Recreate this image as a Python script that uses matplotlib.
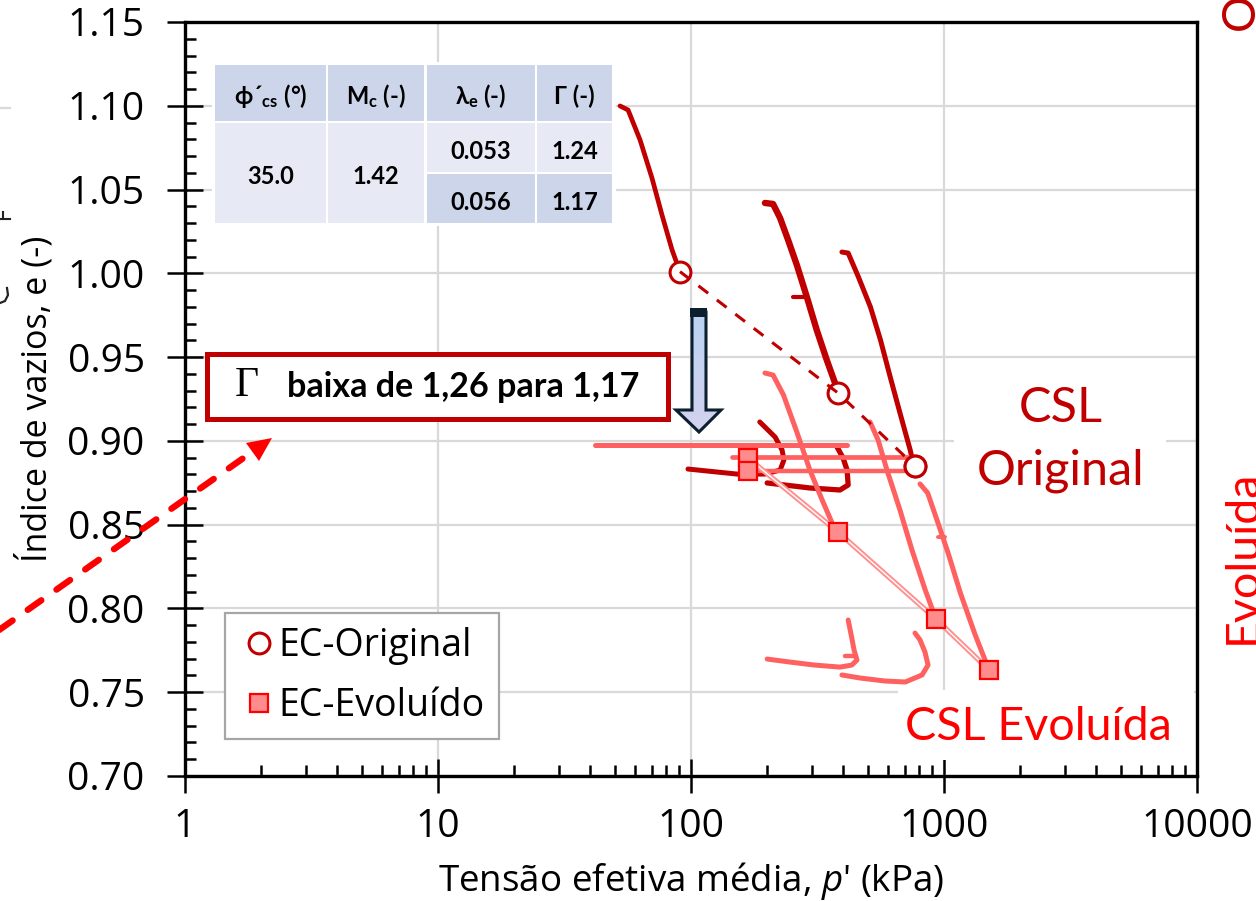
import matplotlib
matplotlib.use("Agg")
import matplotlib.pyplot as plt
import numpy as np
from matplotlib.colors import LinearSegmentedColormap
from matplotlib.lines import Line2D
from matplotlib.patches import Polygon, Rectangle
from matplotlib.ticker import FixedLocator, FuncFormatter, MultipleLocator, NullFormatter

plt.rcParams["font.family"] = ["Open Sans", "DejaVu Sans"]
plt.rcParams["mathtext.fontset"] = "custom"
plt.rcParams["mathtext.rm"] = "Open Sans"
plt.rcParams["mathtext.it"] = "Open Sans:italic"
plt.rcParams["mathtext.bf"] = "Lato:bold"

DARK = "#C00000"
LIGHT = "#FF6060"
GRID = "#D9D9D9"

# EC-Original: paths ending at the critical state points
orig_p = [90.5, 381, 768]
orig_e = [1.001, 0.9286, 0.885]
o1_p = [52.4, 56.4, 62.9, 70.1, 76.8, 84.2, 90.5]
o1_e = [1.0999, 1.0975, 1.0796, 1.0569, 1.0348, 1.0139, 1.0008]
o2_p = [196, 211, 225, 242, 262, 287, 314, 344, 371, 381]
o2_e = [1.0420, 1.0414, 1.0330, 1.0199, 1.0050, 0.9859, 0.9662, 0.9483, 0.9345, 0.9286]
o2b_p = [253, 287]
o2b_e = [0.986, 0.986]
o3_p = [395, 418, 459, 512, 561, 613, 670, 735, 755, 768]
o3_e = [1.0127, 1.0121, 0.9978, 0.9799, 0.9602, 0.9381, 0.9166, 0.8946, 0.8868, 0.885]
d1_p = [97.3, 152, 196, 225, 233, 229, 215, 187]
d1_e = [0.8832, 0.8802, 0.8802, 0.8826, 0.8886, 0.8946, 0.9023, 0.9113]
d2_p = [200, 295, 388, 418, 414, 399, 378]
d2_e = [0.8749, 0.8719, 0.8707, 0.8737, 0.8826, 0.8898, 0.8963]

# EC-Evoluido
evol_p = [168, 168, 381, 929, 1506]
evol_e = [0.8898, 0.882, 0.8456, 0.7937, 0.7633]
csl_p = [168, 381, 929, 1506]
csl_e = [0.8898, 0.8456, 0.7937, 0.7633]
l1_p = [196, 211, 232, 262, 295, 330, 364, 381]
l1_e = [0.9405, 0.9393, 0.9274, 0.9053, 0.8826, 0.8647, 0.8498, 0.8456]
l2_p = [510, 549, 595, 670, 747, 843, 929]
l2_e = [0.9113, 0.9005, 0.8826, 0.8587, 0.8349, 0.8110, 0.7937]
l3_p = [804, 862, 938, 1038, 1161, 1329, 1506]
l3_e = [0.8743, 0.8689, 0.8528, 0.8331, 0.8092, 0.7841, 0.7633]
l3b_p = [947, 1009]
l3b_e = [0.8426, 0.8426]
h1_p = [41.8, 414]
h1_e = [0.8975, 0.8975]
h2_p = [145, 720]
h2_e = [0.8904, 0.8904]
h3_p = [182, 702]
h3_e = [0.882, 0.882]
b1_p = [200, 246, 308, 388, 432, 453, 441, 432, 418]
b1_e = [0.7698, 0.7680, 0.7662, 0.7650, 0.7662, 0.7692, 0.7752, 0.7824, 0.7931]
b1b_p = [406, 445]
b1b_e = [0.7716, 0.7716]
b2_p = [395, 465, 583, 703, 819, 865, 841, 804, 768]
b2_e = [0.7603, 0.7585, 0.7567, 0.7561, 0.7603, 0.7662, 0.7740, 0.7812, 0.7853]

x_ticks = [1, 10, 100, 1000, 10000]
table_head = ["\u03d5\u00b4$_{\\mathbf{cs}}$ (\u00b0)", "M$_{\\mathbf{c}}$ (-)", "\u03bb$_{\\mathbf{e}}$ (-)", "\u0393 (-)"]
table_phi = "35.0"
table_mc = "1.42"
table_lambda = ["0.053", "0.056"]
table_gamma = ["1.24", "1.17"]

fig = plt.figure(figsize=(12.56, 9.01), dpi=100)
ax = fig.add_axes([185 / 1256, 1 - 776 / 901, 1012 / 1256, 754 / 901])
ax.set_xscale("log")
ax.set_xlim(1, 10000)
ax.set_ylim(0.70, 1.15)
ax.set_axisbelow(True)
ax.grid(True, which="major", color=GRID, lw=1.6)

ax.xaxis.set_major_locator(FixedLocator(x_ticks))
ax.xaxis.set_major_formatter(FuncFormatter(lambda v, _: f"{v:.0f}"))
ax.xaxis.set_minor_formatter(NullFormatter())
ax.yaxis.set_major_locator(MultipleLocator(0.05))
ax.yaxis.set_minor_locator(MultipleLocator(0.01))
ax.yaxis.set_major_formatter(FuncFormatter(lambda v, _: f"{v:.2f}"))
ax.tick_params(which="major", direction="inout", length=26, width=1.8, labelsize=28, pad=0)
ax.tick_params(axis="x", which="major", length=24, pad=11)
ax.tick_params(axis="y", which="major", pad=16)
ax.tick_params(which="minor", direction="in", length=8, width=1.8)
for side in ax.spines.values():
    side.set_linewidth(2.4)
    side.set_zorder(6)
ax.set_xlabel("Tensão efetiva média, $p$' (kPa)", fontsize=26.5, labelpad=10)
ax.set_ylabel("Índice de vazios, e (-)", fontsize=24.5, labelpad=0)
ax.yaxis.set_label_coords(-0.129, 0.50)


def curve(xs, ys, color, lw=3.0):
    ax.plot(xs, ys, color=color, lw=lw, solid_capstyle="round", solid_joinstyle="round", zorder=3)


curve(o1_p, o1_e, DARK, 3.4)
curve(o2_p, o2_e, DARK, 4.6)
curve(o2b_p, o2b_e, DARK, 3.0)
curve(o3_p, o3_e, DARK, 3.6)
curve(d1_p, d1_e, DARK, 3.6)
curve(d2_p, d2_e, DARK, 3.8)
for xs, ys, w in [(l1_p, l1_e, 3.6), (l2_p, l2_e, 3.6), (l3_p, l3_e, 3.6), (l3b_p, l3b_e, 2.8),
                  (h1_p, h1_e, 3.6), (h2_p, h2_e, 3.4), (h3_p, h3_e, 3.2),
                  (b1_p, b1_e, 3.6), (b1b_p, b1b_e, 3.2), (b2_p, b2_e, 3.6)]:
    curve(xs, ys, LIGHT, w)

ax.plot(csl_p, csl_e, color="#FF9090", lw=3.8, zorder=3.5)
ax.plot(csl_p, csl_e, color="white", lw=1.0, zorder=3.6)
ax.plot(orig_p, orig_e, color="none", marker="o", ms=15, mfc="white", mec=DARK, mew=2.2, zorder=4)
ax.plot(orig_p, orig_e, color=DARK, lw=2.2, ls=(0, (4, 3.6)), zorder=4.5)
ax.plot(orig_p[-1], orig_e[-1], marker="o", ms=15, mfc="white", mec=DARK, mew=2.2, zorder=4.6)
ax.plot(evol_p, evol_e, ls="none", marker="s", ms=13, mfc="#FF8C8C", mec="#FF0000", mew=1.6, zorder=4)

handles = [Line2D([], [], ls="none", marker="o", ms=15, mfc="white", mec=DARK, mew=2.2),
           Line2D([], [], ls="none", marker="s", ms=13, mfc="#FF8C8C", mec="#FF0000", mew=1.6)]

# pixel overlay for the slide annotations
ov = fig.add_axes([0, 0, 1, 1], facecolor="none", zorder=10)
ov.axis("off")


def white(x0, y0, x1, y1):
    ov.add_patch(Rectangle((x0, y0), x1 - x0, y1 - y0, fc="white", ec="none"))


white(212, 62, 616, 226)
white(954, 372, 1166, 505)
white(898, 690, 1194, 760)

# table
col_x = [(215, 326), (328, 424), (427, 535), (537, 612)]
HEAD = "#CDD5EA"
BODY = "#E7EAF5"
for (x0, x1), label in zip(col_x, table_head):
    ov.add_patch(Rectangle((x0, 65), x1 - x0, 56, fc=HEAD, ec="none"))
    ov.text((x0 + x1) / 2, 96, label, ha="center", va="center", fontsize=17, fontweight="bold",
            family=["Lato", "DejaVu Sans"])
for (x0, x1), label in zip(col_x[:2], [table_phi, table_mc]):
    ov.add_patch(Rectangle((x0, 123), x1 - x0, 100, fc=BODY, ec="none"))
    ov.text((x0 + x1) / 2, 176, label, ha="center", va="center", fontsize=17, fontweight="bold", family="Lato")
for (x0, x1), labels in zip(col_x[2:], [table_lambda, table_gamma]):
    for (y0, y1, fc), label in zip([(123, 172, BODY), (174, 223, HEAD)], labels):
        ov.add_patch(Rectangle((x0, y0), x1 - x0, y1 - y0, fc=fc, ec="none"))
        ov.text((x0 + x1) / 2, (y0 + y1) / 2 + 4, label, ha="center", va="center", fontsize=17,
                fontweight="bold", family="Lato")

# boxed note
ov.add_patch(Rectangle((207, 354), 461, 65, fc="white", ec=DARK, lw=3.6))
ov.text(235, 386, "\u0393", fontsize=30, family="Liberation Serif", ha="left", va="center")
ov.text(287, 387, "baixa de 1,26 para 1,17", fontsize=24.5, fontweight="bold", family="Lato", ha="left", va="center")

# thick down arrow with gradient
arrow = [(692, 312), (706, 312), (706, 410), (721, 410), (699, 432), (676, 410), (692, 410)]
grad = LinearSegmentedColormap.from_list("arrow", ["#B9D4F4", "#D4D2EE"])
im = ov.imshow(np.linspace(0, 1, 64).reshape(-1, 1), cmap=grad, extent=(670, 725, 435, 308), aspect="auto", zorder=2)
shape = Polygon(arrow, closed=True, fc="none", ec="#0B1F2E", lw=2.2, joinstyle="miter", zorder=3)
ov.add_patch(shape)
im.set_clip_path(shape)
ov.add_patch(Rectangle((690, 308), 17, 9, fc="#0B1F2E", ec="none", zorder=4))

# red dashed arrow coming in from the left
ov.plot([-8, 252], [635, 452], color="#FF0000", lw=4.6, ls=(0, (2.6, 2.9)), dash_capstyle="round")
ov.add_patch(Polygon([(272, 438), (246, 443), (259, 461)], closed=True, fc="#FF0000", ec="none"))

# labels
ov.text(1061, 408, "CSL", color=DARK, fontsize=35, family="Lato", ha="center", va="center")
ov.text(1061, 471, "Original", color=DARK, fontsize=35, family="Lato", ha="center", va="center")
ov.text(1038, 727, "CSL Evoluída", color="#FF0000", fontsize=33.6, family="Lato", ha="center", va="center")

# pieces of neighbouring slide text cut by the crop
ov.text(1254, 30, "Original", color=DARK, fontsize=33, family="Lato", rotation=90, ha="left", va="baseline",
        rotation_mode="anchor", clip_on=False)
ov.text(1256, 644, "Evoluída", color="#FF0000", fontsize=33.6, family="Lato", rotation=90, ha="left", va="baseline",
        rotation_mode="anchor", clip_on=False)
ov.plot([0, 10], [108, 108], color=GRID, lw=1.6)
ov.plot([0, 10], [219, 219], color="#222222", lw=1.5)
ov.plot([3, 3], [212, 219], color="#222222", lw=1.5)
ov.plot([0, 5, 8, 7], [303, 301, 295, 288], color="#222222", lw=1.6)

ov.set_xlim(0, 1256)
ov.set_ylim(901, 0)

leg = ov.legend(handles, ["EC-Original", "EC-Evoluído"], loc="lower left", bbox_to_anchor=(225, 739),
                bbox_transform=ov.transData, fontsize=27, frameon=True, fancybox=False, edgecolor="#A6A6A6",
                framealpha=1, borderpad=0.38, borderaxespad=0, labelspacing=0.58, handletextpad=0.0,
                handlelength=1.05)
leg.get_frame().set_linewidth(1.6)

fig.savefig("out.png", dpi=100)
